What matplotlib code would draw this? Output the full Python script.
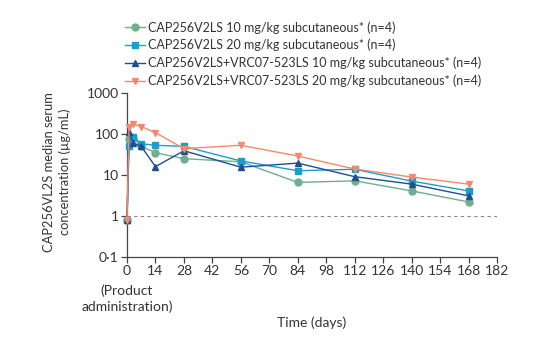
import matplotlib
matplotlib.use("Agg")
import matplotlib.pyplot as plt
from matplotlib.ticker import FixedLocator, FixedFormatter, NullLocator

plt.rcParams['font.family'] = ['Lato', 'DejaVu Sans']

days = [0, 1, 3, 7, 14, 28, 56, 84, 112, 140, 168]
cap10 = [0.8, 74, 81, 50, 35, 25, 21, 6.6, 7.2, 4.1, 2.2]
cap20 = [0.8, 52, 86, 58, 53, 50, 22, 12.7, 13.8, 7.1, 4.1]
combo10 = [0.8, 112, 61, 50, 16, 39, 15.5, 19.5, 9.1, 6.0, 3.1]
combo20 = [0.8, 145, 175, 152, 108, 44, 53, 29, 14, 8.9, 6.0]

labels = [
    "CAP256V2LS 10 mg/kg subcutaneous* (n=4)",
    "CAP256V2LS 20 mg/kg subcutaneous* (n=4)",
    "CAP256V2LS+VRC07-523LS 10 mg/kg subcutaneous* (n=4)",
    "CAP256V2LS+VRC07-523LS 20 mg/kg subcutaneous* (n=4)",
]
colors = ["#6fae8f", "#1a9fc9", "#1d4f91", "#f4896b"]
markers = ["o", "s", "^", "v"]

yticks = [0.1, 1, 10, 100, 1000]
ytick_labels = ["0\u00b71", "1", "10", "100", "1000"]
xticks = list(range(0, 183, 14))
xtick_labels = [str(t) for t in xticks]

fig = plt.figure(figsize=(5.38, 3.46), dpi=100)
ax = fig.add_axes([127/538, 1-257/346, 370/538, 164/346])

series = [cap10, cap20, combo10, combo20]
handles = []
for vals, c, m, lab in zip(series, colors, markers, labels):
    h, = ax.plot(days, vals, color=c, marker=m, markersize=5, lw=1.0,
                 label=lab, clip_on=False, zorder=3)
    handles.append(h)

ax.axhline(1, color="#888888", lw=0.8, ls=(0, (3, 3)), zorder=1)

ax.set_yscale("log")
ax.set_ylim(0.1, 1000)
ax.set_xlim(0, 182)
ax.yaxis.set_major_locator(FixedLocator(yticks))
ax.yaxis.set_major_formatter(FixedFormatter(ytick_labels))
ax.yaxis.set_minor_locator(NullLocator())
ax.xaxis.set_major_locator(FixedLocator(xticks))
ax.xaxis.set_major_formatter(FixedFormatter(xtick_labels))

for s in ["top", "right"]:
    ax.spines[s].set_visible(False)
for s in ["left", "bottom"]:
    ax.spines[s].set_color("#444444")
    ax.spines[s].set_linewidth(0.9)
ax.tick_params(axis="both", direction="out", length=4, width=0.9,
               color="#444444", labelsize=10, labelcolor="#333333", pad=2)

fig.text(127/538, 1-299/346, "(Product\nadministration)", ha="center", va="center",
         fontsize=10, color="#333333", linespacing=1.3)
fig.text(312/538, 1-323/346, "Time (days)", ha="center", va="center",
         fontsize=10, color="#333333")
fig.text(57/538, 1-172/346, "CAP256VL2S median serum\nconcentration (\u00b5g/mL)",
         ha="center", va="center", rotation=90, fontsize=9.3, color="#333333",
         linespacing=1.35)

fig.legend(handles=handles, labels=labels, loc="upper left",
           bbox_to_anchor=(125/538, 1-21/346), frameon=False, fontsize=9.0,
           handlelength=1.6, handletextpad=0.25, labelspacing=0.42,
           borderpad=0, borderaxespad=0, labelcolor="#333333")

fig.savefig("out.png", dpi=100)
